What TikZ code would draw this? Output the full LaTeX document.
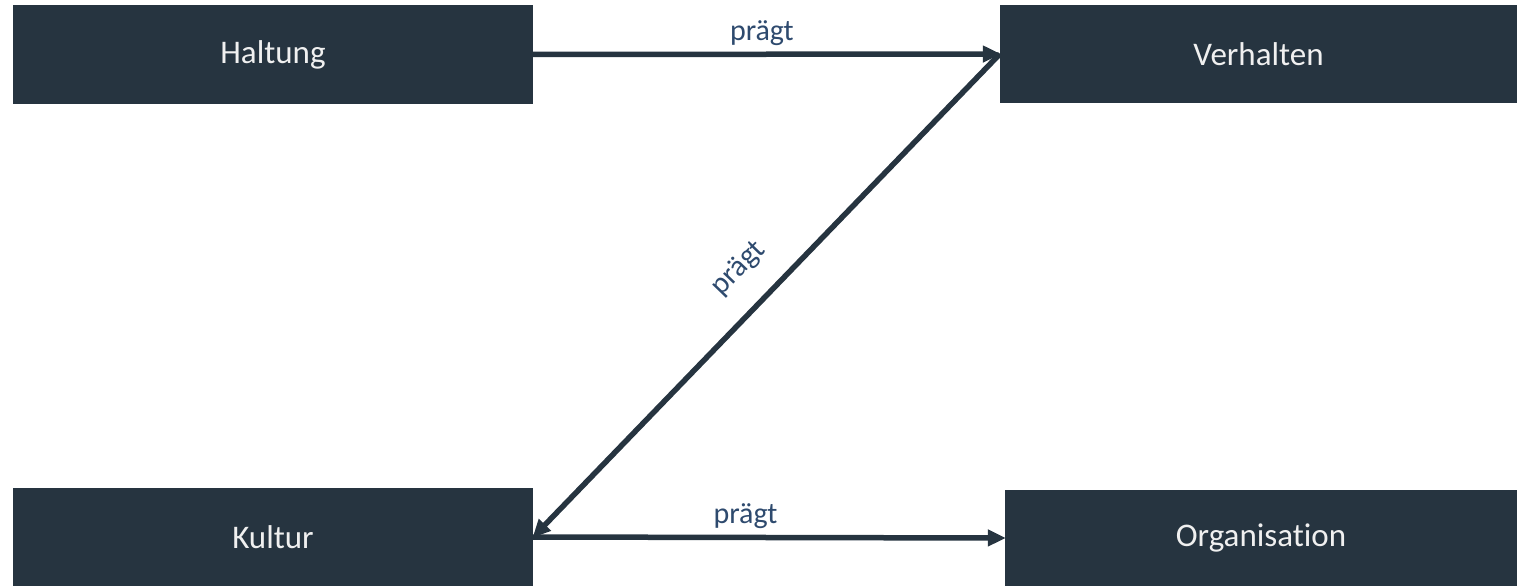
\documentclass[tikz,border=0pt]{standalone}
\usepackage{fontspec}
\setmainfont[Ligatures=NoCommon]{Carlito}
\usetikzlibrary{arrows.meta}
\definecolor{boxfill}{HTML}{263440}
\definecolor{labelblue}{HTML}{2E4A6E}
\begin{document}
\begin{tikzpicture}[x=1pt,y=-1pt,
  block/.style={fill=boxfill,draw=none,text=white!94!black,minimum width=520pt,minimum height=98pt,inner sep=0pt,font=\fontsize{33}{39}\selectfont},
  link/.style={draw=boxfill,line width=5.5pt,-{Triangle[length=18pt,width=16pt]},shorten >=-1pt},
  lbl/.style={text=labelblue,font=\fontsize{30}{35}\selectfont}]
  \useasboundingbox (0,0) rectangle (1517,586);
  \node[block] (haltung) at (273,54.5) {Haltung};
  \node[block,minimum width=517pt] (verhalten) at (1258.5,54) {Verhalten};
  \node[block] (kultur) at (273,537) {Kultur};
  \node[block,minimum width=512pt,minimum height=96pt] (organisation) at (1261,538) {Organisation};
  \draw[link] (haltung.east) -- node[lbl,above=3pt,pos=0.49] {prägt} (verhalten.west);
  \draw[link] (verhalten.west) -- node[lbl,sloped,above=20pt] {prägt} (kultur.east);
  \draw[link] (kultur.east) -- node[lbl,above=3pt,pos=0.45] {prägt} (organisation.west);
\end{tikzpicture}
\end{document}
